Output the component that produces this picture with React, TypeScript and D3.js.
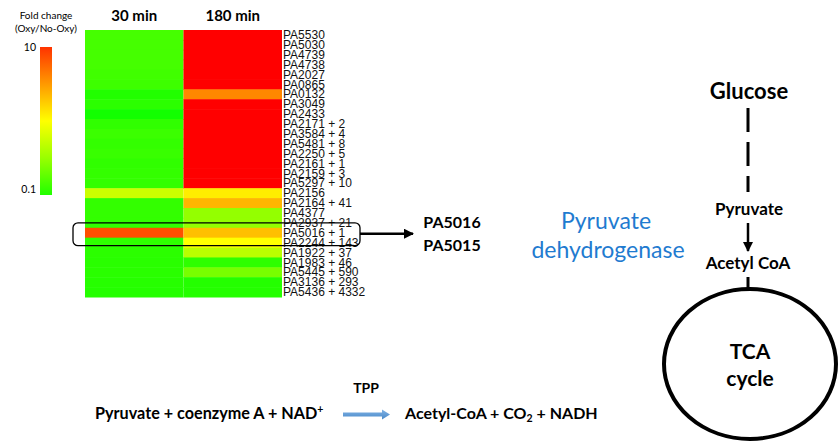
import React from "react";
import * as d3 from "d3";

const genes = [
  "PA5530", "PA5030", "PA4739", "PA4738", "PA2027", "PA0865", "PA0132", "PA3049", "PA2433",
  "PA2171 + 2", "PA3584 + 4", "PA5481 + 8", "PA2250 + 5", "PA2161 + 1", "PA2159 + 3", "PA5297 + 10",
  "PA2156", "PA2164 + 41", "PA4377", "PA2937 + 21", "PA5016 + 1", "PA2244 + 143", "PA1922 + 37",
  "PA1983 + 46", "PA5445 + 590", "PA3136 + 293", "PA5436 + 4332",
];
const timepoints = ["30 min", "180 min"];
// log10 fold change (Oxy/No-Oxy)
const fc30 = [
  -0.73, -0.73, -0.73, -0.73, -0.75, -0.76, -0.87, -0.83, -0.93,
  -0.81, -0.77, -0.8, -0.78, -0.81, -0.8, -0.8,
  -0.2, -0.8, -0.8, -0.8, 0.69, -0.82, -0.83,
  -0.84, -0.84, -0.85, -0.86,
];
const fc180 = [
  1, 1, 1, 1, 1, 1, 0.47, 1, 1,
  1, 1, 1, 1, 1, 1, 1,
  0.07, 0.29, -0.42, -0.42, 0.25, 0.0, -0.27,
  -0.82, -0.53, -0.86, -0.86,
];
const legendTicks = ["10", "0.1"];
const highlightGene = "PA5016 + 1";

const calibri = "Lato, 'Open Sans', sans-serif";
const arial = "'Liberation Sans', Arial, sans-serif";

export default function App() {
  const W = 840, H = 445;
  const x = d3.scaleBand<string>().domain(timepoints).range([85, 282]);
  const y = d3.scaleBand<string>().domain(genes).range([30, 297]);
  const color = d3.scaleLinear<string>().domain([-1, 0, 1]).range(["#00ff00", "#ffff00", "#ff0000"]).clamp(true);
  const legY = d3.scaleLinear().domain([1, -1]).range([47, 195]);
  const gradStops = [0.8, 0.4, 0, -0.4, -0.87];

  const series = [fc30, fc180];
  const hy = y(highlightGene)!;
  const bw = y.bandwidth();

  return (
    <svg width={W} height={H} style={{ position: "absolute", left: 0, top: 0, background: "#fff" }}>
      <defs>
        <linearGradient id="leg" x1="0" y1="0" x2="0" y2="1">
          {gradStops.map((v, i) => (
            <stop key={i} offset={i / (gradStops.length - 1)} stopColor={color(v)} />
          ))}
        </linearGradient>
        <marker id="ah" viewBox="0 0 10 10" refX="9" refY="5" markerWidth="4" markerHeight="4" orient="auto">
          <path d="M0,0 L10,5 L0,10 z" fill="#000" />
        </marker>
        <linearGradient id="blue" x1="0" y1="0" x2="0" y2="1">
          <stop offset="0" stopColor="#7fb2e5" />
          <stop offset="1" stopColor="#4a89c8" />
        </linearGradient>
      </defs>

      {/* legend */}
      <text x={46} y={19} textAnchor="middle" fontFamily={calibri} fontSize={10} fill="#000">Fold change</text>
      <text x={46} y={32} textAnchor="middle" fontFamily={calibri} fontSize={10} fill="#000">(Oxy/No-Oxy)</text>
      <rect x={40} y={legY(1)} width={12} height={legY(-1) - legY(1)} fill="url(#leg)" />
      <text x={36} y={legY(1) + 4} textAnchor="end" fontFamily={calibri} fontSize={10.5} fill="#000">{legendTicks[0]}</text>
      <text x={36} y={legY(-1) - 2} textAnchor="end" fontFamily={calibri} fontSize={10.5} fill="#000">{legendTicks[1]}</text>

      {/* headers */}
      {timepoints.map((t) => (
        <text key={t} x={x(t)! + x.bandwidth() / 2} y={21} textAnchor="middle" fontFamily={calibri} fontWeight="bold" fontSize={15} fill="#000">{t}</text>
      ))}

      {/* heatmap */}
      {series.map((vals, si) =>
        genes.map((g, gi) => (
          <rect key={`${si}-${gi}`} x={x(timepoints[si])!} y={y(g)!} width={x.bandwidth()} height={bw + 0.5} fill={color(vals[gi])} />
        ))
      )}
      {genes.map((g) => (
        <text key={g} x={283} y={y(g)! + bw / 2 + 4.2} fontFamily={arial} fontSize={12} fill="#111">{g}</text>
      ))}

      {/* highlight box */}
      <rect x={73} y={hy - 5} width={287} height={bw + 13} rx={5} fill="none" stroke="#000" strokeWidth={1.3} />
      <line x1={360} y1={hy + bw / 2 + 1} x2={413} y2={hy + bw / 2 + 1} stroke="#000" strokeWidth={2.5} markerEnd="url(#ah)" />
      <text x={452} y={228} textAnchor="middle" fontFamily={calibri} fontWeight="bold" fontSize={16} fill="#000">PA5016</text>
      <text x={452} y={251} textAnchor="middle" fontFamily={calibri} fontWeight="bold" fontSize={16} fill="#000">PA5015</text>

      <text x={606} y={229} textAnchor="middle" fontFamily={calibri} fontSize={23} fill="#1f7bd0">Pyruvate</text>
      <text x={608} y={258} textAnchor="middle" fontFamily={calibri} fontSize={23} fill="#1f7bd0">dehydrogenase</text>

      {/* pathway */}
      <text x={749} y={99} textAnchor="middle" fontFamily={calibri} fontWeight="bold" fontSize={22} fill="#000">Glucose</text>
      <line x1={748} y1={108} x2={748} y2={192} stroke="#000" strokeWidth={3} strokeDasharray="24 10" />
      <text x={749} y={215} textAnchor="middle" fontFamily={calibri} fontWeight="bold" fontSize={17} fill="#000">Pyruvate</text>
      <line x1={748} y1={223} x2={748} y2={251} stroke="#000" strokeWidth={2.5} markerEnd="url(#ah)" />
      <text x={748} y={269} textAnchor="middle" fontFamily={calibri} fontWeight="bold" fontSize={17} fill="#000">Acetyl CoA</text>
      <line x1={748} y1={277} x2={748} y2={290} stroke="#000" strokeWidth={3} />
      <ellipse cx={750} cy={364} rx={86} ry={75} fill="none" stroke="#000" strokeWidth={4} />
      <text x={750} y={359} textAnchor="middle" fontFamily={calibri} fontWeight="bold" fontSize={21} fill="#000">TCA</text>
      <text x={750} y={386} textAnchor="middle" fontFamily={calibri} fontWeight="bold" fontSize={21} fill="#000">cycle</text>

      {/* equation */}
      <text x={95} y={419} fontFamily={calibri} fontWeight="bold" fontSize={16.2} fill="#000">
        Pyruvate + coenzyme A + NAD<tspan fontSize={10.5} dy={-6}>+</tspan>
      </text>
      <text x={366} y={393} textAnchor="middle" fontFamily={calibri} fontWeight="bold" fontSize={14} fill="#000">TPP</text>
      <path d="M343,412.5 L382,412.5 L382,409.5 L390,414.5 L382,419.5 L382,416.5 L343,416.5 Z" fill="url(#blue)" />
      <text x={405} y={419} fontFamily={calibri} fontWeight="bold" fontSize={16} fill="#000">
        Acetyl-CoA + CO<tspan fontSize={10.5} dy={3}>2</tspan><tspan dy={-3}> + NADH</tspan>
      </text>
    </svg>
  );
}
